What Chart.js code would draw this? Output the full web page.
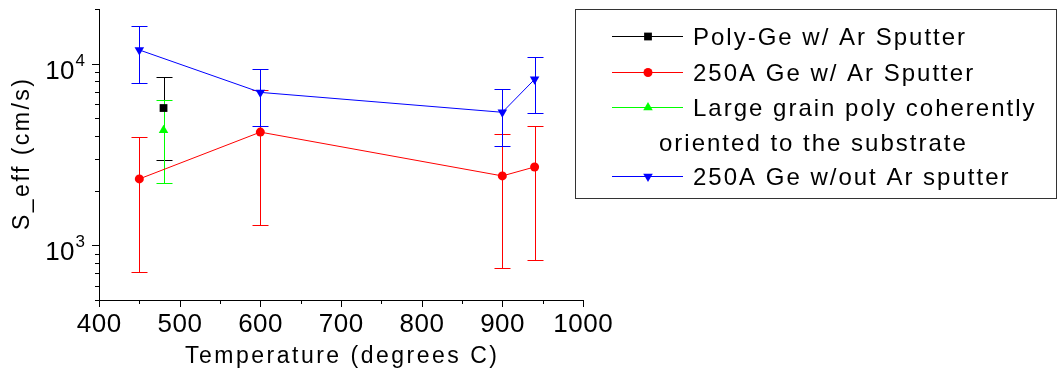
<!DOCTYPE html>
<html>
<head>
<meta charset="utf-8">
<script src="https://cdn.jsdelivr.net/npm/chart.js@4.4.1/dist/chart.umd.min.js"></script>
<style>
  html, body { margin: 0; padding: 0; background: #fff; }
</style>
</head>
<body>
<canvas id="c" width="1058" height="372"></canvas>
<script>
// data (temperature in C, S_eff in cm/s)
var polyTemp = [480];
var polyS = [5700];
var polyLo = [2950];
var polyHi = [8400];

var geArTemp = [450, 600, 900, 940];
var geArS = [2320, 4200, 2410, 2700];
var geArLo = [710, 1300, 750, 830];
var geArHi = [3950, 7200, 4100, 4550];

var grainTemp = [480];
var grainS = [4300];
var grainLo = [2210];
var grainHi = [6350];

var noArTemp = [450, 600, 900, 940];
var noArS = [11900, 6950, 5400, 8200];
var noArLo = [7800, 4530, 3520, 5330];
var noArHi = [16100, 9400, 7300, 10900];

var xTicks = [400, 500, 600, 700, 800, 900, 1000];
var xMinor = [450, 550, 650, 750, 850, 950];
var yMajor = [1000, 10000];
var yMinor = [500, 600, 700, 800, 900, 2000, 3000, 4000, 5000, 6000, 7000, 8000, 9000, 20000];

var legendLabels = [
  ['Poly-Ge w/ Ar Sputter'],
  ['250A Ge w/ Ar Sputter'],
  ['Large grain poly coherently', 'oriented to the substrate'],
  ['250A Ge w/out Ar sputter']
];

var FONT = '"Liberation Sans", Arial, sans-serif';

function pts(xs, ys) {
  return xs.map(function(x, i) { return {x: x, y: ys[i]}; });
}

var errLo = [polyLo, geArLo, grainLo, noArLo];
var errHi = [polyHi, geArHi, grainHi, noArHi];

var datasets = [
  {label: legendLabels[0][0], data: pts(polyTemp, polyS), borderColor: '#000000', backgroundColor: '#000000',
   pointStyle: 'rect', pointRadius: 5.5, pointRotation: 0},
  {label: legendLabels[1][0], data: pts(geArTemp, geArS), borderColor: '#ff0000', backgroundColor: '#ff0000',
   pointStyle: 'circle', pointRadius: 4.5, pointRotation: 0},
  {label: legendLabels[2][0], data: pts(grainTemp, grainS), borderColor: '#00ff00', backgroundColor: '#00ff00',
   pointStyle: 'triangle', pointRadius: 5.5, pointRotation: 0},
  {label: legendLabels[3][0], data: pts(noArTemp, noArS), borderColor: '#0000ff', backgroundColor: '#0000ff',
   pointStyle: 'triangle', pointRadius: 5.5, pointRotation: 180}
];
datasets.forEach(function(d) {
  d.showLine = true;
  d.borderWidth = 1;
  d.pointBorderWidth = 0;
  d.tension = 0;
});

function spacedText(ctx, txt, x, y, size, spacing, align) {
  ctx.font = size + 'px ' + FONT;
  ctx.letterSpacing = spacing + 'px';
  var w = ctx.measureText(txt).width - spacing;
  var x0 = x;
  if (align === 'center') x0 = x - w / 2;
  else if (align === 'right') x0 = x - w;
  ctx.textAlign = 'left';
  ctx.fillText(txt, x0, y);
  ctx.letterSpacing = '0px';
  return w;
}

var extras = {
  id: 'extras',
  beforeDatasetsDraw: function(chart) {
    var ctx = chart.ctx, xs = chart.scales.x, ys = chart.scales.y;
    ctx.save();
    ctx.lineWidth = 1;
    chart.data.datasets.forEach(function(ds, k) {
      ctx.strokeStyle = ds.borderColor;
      ds.data.forEach(function(p, i) {
        var x = Math.round(xs.getPixelForValue(p.x)) + 0.5;
        var yl = Math.round(ys.getPixelForValue(errLo[k][i])) + 0.5;
        var yh = Math.round(ys.getPixelForValue(errHi[k][i])) + 0.5;
        ctx.beginPath();
        ctx.moveTo(x, yl); ctx.lineTo(x, yh);
        ctx.moveTo(x - 8, yl); ctx.lineTo(x + 8, yl);
        ctx.moveTo(x - 8, yh); ctx.lineTo(x + 8, yh);
        ctx.stroke();
      });
    });
    ctx.restore();
  },
  afterDraw: function(chart) {
    var ctx = chart.ctx, xs = chart.scales.x, ys = chart.scales.y, area = chart.chartArea;
    ctx.save();
    ctx.strokeStyle = '#000';
    ctx.fillStyle = '#000';
    ctx.lineWidth = 1;

    // tick marks
    ctx.beginPath();
    xTicks.forEach(function(v) {
      var x = Math.round(xs.getPixelForValue(v)) + 0.5;
      ctx.moveTo(x, area.bottom); ctx.lineTo(x, area.bottom + 7);
    });
    xMinor.forEach(function(v) {
      var x = Math.round(xs.getPixelForValue(v)) + 0.5;
      ctx.moveTo(x, area.bottom); ctx.lineTo(x, area.bottom + 4);
    });
    yMajor.forEach(function(v) {
      var y = Math.round(ys.getPixelForValue(v)) + 0.5;
      ctx.moveTo(area.left, y); ctx.lineTo(area.left - 7, y);
    });
    yMinor.forEach(function(v) {
      var y = Math.round(ys.getPixelForValue(v)) + 0.5;
      ctx.moveTo(area.left, y); ctx.lineTo(area.left - 4, y);
    });
    ctx.stroke();

    // tick labels
    ctx.textBaseline = 'alphabetic';
    xTicks.forEach(function(v) {
      spacedText(ctx, String(v), xs.getPixelForValue(v), area.bottom + 32, 26, 0.5, 'center');
    });
    yMajor.forEach(function(v) {
      var y = ys.getPixelForValue(v);
      var e = String(Math.round(Math.log10(v)));
      var ws = spacedText(ctx, e, area.left - 14, y + 2, 17, 0, 'right');
      spacedText(ctx, '10', area.left - 14 - ws - 1, y + 15, 26, 0.5, 'right');
    });

    // axis titles
    spacedText(ctx, 'Temperature (degrees C)', (area.left + area.right) / 2, 363, 23, 2.5, 'center');
    ctx.save();
    ctx.translate(29, (area.top + area.bottom) / 2);
    ctx.rotate(-Math.PI / 2);
    spacedText(ctx, 'S_eff (cm/s)', 0, 0, 23, 2.5, 'center');
    ctx.restore();

    // legend
    ctx.strokeStyle = '#333';
    ctx.strokeRect(575.5, 9.5, 481, 189);
    var rows = [36, 72, 107, 176];
    var extraRow = 142;
    chart.data.datasets.forEach(function(ds, k) {
      var y = rows[k] + 0.5;
      ctx.strokeStyle = ds.borderColor;
      ctx.fillStyle = ds.backgroundColor;
      ctx.beginPath();
      ctx.moveTo(612, y); ctx.lineTo(683, y);
      ctx.stroke();
      Chart.helpers.drawPoint(ctx, {pointStyle: ds.pointStyle, radius: ds.pointRadius,
        rotation: ds.pointRotation, borderWidth: 0}, 648, y);
      ctx.fillStyle = '#000';
      spacedText(ctx, legendLabels[k][0], 693, rows[k] + 9, 24, 2, 'left');
      if (legendLabels[k][1]) {
        spacedText(ctx, legendLabels[k][1], 659, extraRow + 9, 24, 2, 'left');
      }
    });
    ctx.restore();
  }
};

new Chart(document.getElementById('c').getContext('2d'), {
  type: 'scatter',
  data: {datasets: datasets},
  options: {
    responsive: false,
    animation: false,
    devicePixelRatio: 1,
    layout: {padding: {left: 0, top: 9, right: 475, bottom: 0}},
    plugins: {legend: {display: false}, tooltip: {enabled: false}},
    scales: {
      x: {
        type: 'linear', min: 400, max: 1000,
        ticks: {display: false}, grid: {display: false},
        border: {display: true, color: '#000', width: 1},
        afterFit: function(s) { s.height = 72; }
      },
      y: {
        type: 'logarithmic', min: 500, max: 20000,
        ticks: {display: false}, grid: {display: false},
        border: {display: true, color: '#000', width: 1},
        afterFit: function(s) { s.width = 99; }
      }
    }
  },
  plugins: [extras]
});
</script>
</body>
</html>
